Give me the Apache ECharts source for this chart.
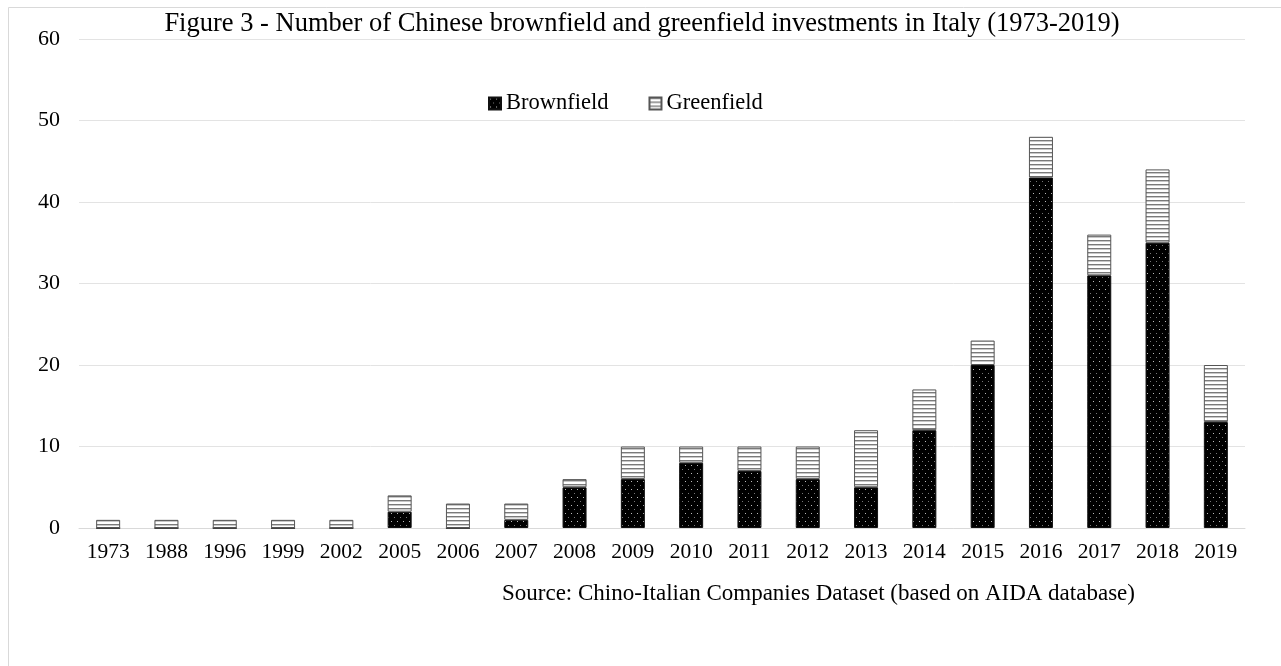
<!DOCTYPE html>
<html><head><meta charset="utf-8">
<script src="https://cdn.jsdelivr.net/npm/echarts@6/dist/echarts.min.js"></script>
<style>html,body{margin:0;padding:0;background:#fff}#c{width:1281px;height:666px}</style>
</head><body><div id="c"></div>
<script>
const categories = ['1973','1988','1996','1999','2002','2005','2006','2007','2008','2009','2010','2011','2012','2013','2014','2015','2016','2017','2018','2019'];
const brownfield = [0,0,0,0,0,2,0,1,5,6,8,7,6,5,12,20,43,31,35,13];
const greenfield = [1,1,1,1,1,2,3,2,1,4,2,3,4,7,5,3,5,5,9,7];
const yTicks = [0,10,20,30,40,50,60];

function dotPattern(){
  const c = document.createElement('canvas'); c.width = 6; c.height = 8;
  const g = c.getContext('2d');
  g.fillStyle = '#000'; g.fillRect(0,0,6,8);
  g.fillStyle = '#bbb'; g.fillRect(1,1,1,1);
  g.fillStyle = '#777'; g.fillRect(4,5,1,1);
  return c;
}
function stripePattern(){
  const c = document.createElement('canvas'); c.width = 8; c.height = 4;
  const g = c.getContext('2d');
  g.fillStyle = '#fff'; g.fillRect(0,0,8,4);
  g.fillStyle = '#7a7a7a'; g.fillRect(0,0,8,1);
  g.fillStyle = '#c8c8c8'; g.fillRect(0,1,8,1);
  return c;
}
const font = '"Liberation Serif","Times New Roman",serif';
const chart = echarts.init(document.getElementById('c'));
chart.setOption({
  animation:false,
  backgroundColor:'#fff',
  title:{text:'Figure 3 - Number of Chinese brownfield and greenfield investments in Italy (1973-2019)',
    left:637, textAlign:'center', top:6, textStyle:{fontFamily:font,fontSize:26.5,fontWeight:'normal',color:'#000'}},
  legend:{top:87,left:483,itemGap:40,itemWidth:12,itemHeight:12,icon:'rect',
    textStyle:{fontFamily:font,fontSize:22.5,color:'#000'},
    data:['Brownfield','Greenfield']},
  graphic:[
    {type:'rect',left:6,top:5,silent:true,shape:{width:1400,height:800},
      style:{fill:'none',stroke:'#d9d9d9',lineWidth:1}},
    {type:'text',left:502,top:582,style:{text:'Source: Chino-Italian Companies Dataset (based on AIDA database)',
    font:'23px '+font, fill:'#000'}}],
  grid:{left:79,right:36,top:39,bottom:138},
  xAxis:{type:'category',data:categories,
    axisLine:{lineStyle:{color:'#d9d9d9'}},axisTick:{show:false},
    axisLabel:{fontFamily:font,fontSize:21.5,color:'#000',margin:13}},
  yAxis:{type:'value',min:0,max:60,interval:10,
    axisLine:{show:false},axisTick:{show:false},
    splitLine:{lineStyle:{color:'#e3e3e3'}},
    axisLabel:{fontFamily:font,fontSize:22,color:'#000',margin:19,
      formatter:v=>yTicks.includes(v)?String(v):''}},
  series:[
    {name:'Brownfield',type:'bar',stack:'a',data:brownfield,barWidth:24,
      itemStyle:{color:{image:dotPattern(),repeat:'repeat'},borderColor:'#111',borderWidth:1}},
    {name:'Greenfield',type:'bar',stack:'a',data:greenfield,barWidth:24,
      itemStyle:{color:{image:stripePattern(),repeat:'repeat'},borderColor:'#555',borderWidth:1}}
  ]
});
</script></body></html>
